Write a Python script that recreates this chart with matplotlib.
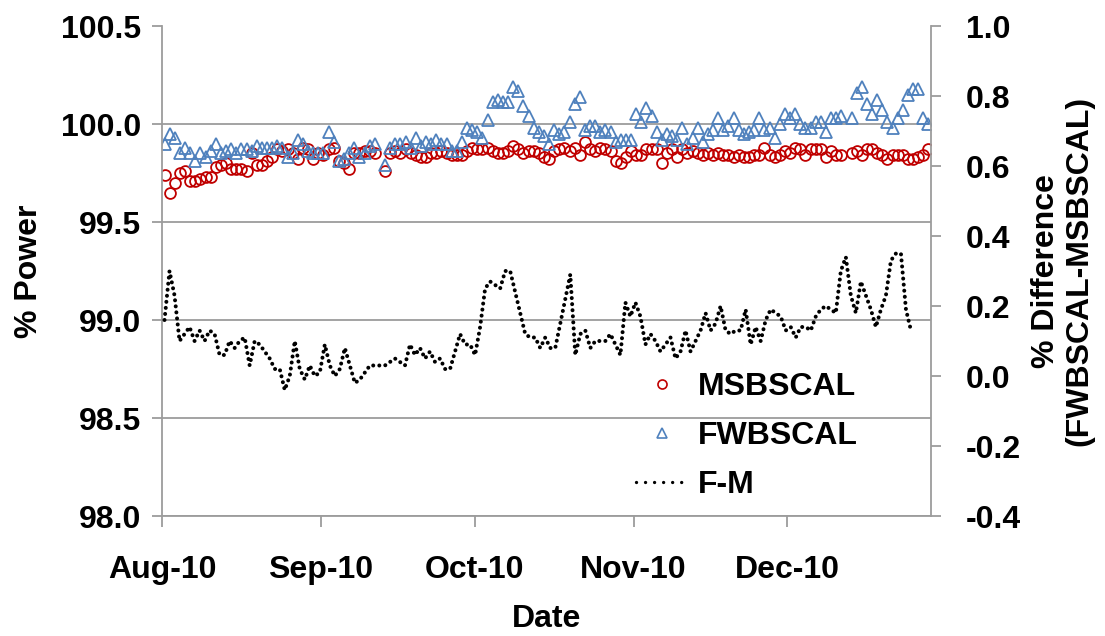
import matplotlib
matplotlib.use("Agg")
import matplotlib.pyplot as plt
import matplotlib.dates as mdates
import pandas as pd
from matplotlib.lines import Line2D

plt.rcParams['font.family'] = ['Liberation Sans', 'DejaVu Sans']
plt.rcParams['font.weight'] = 'bold'
plt.rcParams['axes.unicode_minus'] = False

# ---- data: daily readings (Sep 12 and Dec 12 missing) ----
dates = pd.date_range("2010-08-01 12:00", "2010-12-28 12:00", freq="D")
dates = dates.drop(pd.to_datetime(["2010-09-12 12:00", "2010-12-12 12:00"]))

msbscal = [99.74, 99.65, 99.70, 99.75, 99.76, 99.71, 99.71, 99.72, 99.73, 99.73,
           99.78, 99.79, 99.80, 99.77, 99.77, 99.77, 99.76, 99.85, 99.79, 99.79,
           99.81, 99.83, 99.87, 99.86, 99.87, 99.85, 99.82, 99.88, 99.87, 99.82,
           99.85, 99.84, 99.87, 99.88, 99.81, 99.80, 99.77, 99.85, 99.85, 99.86,
           99.86, 99.85, 99.76, 99.85, 99.86, 99.85, 99.87, 99.85, 99.84, 99.83,
           99.83, 99.85, 99.85, 99.86, 99.85, 99.84, 99.84, 99.84, 99.86, 99.88,
           99.87, 99.87, 99.88, 99.86, 99.85, 99.85, 99.86, 99.89, 99.87, 99.85,
           99.86, 99.86, 99.85, 99.83, 99.82, 99.86, 99.87, 99.88, 99.86, 99.88,
           99.84, 99.91, 99.87, 99.86, 99.88, 99.87, 99.86, 99.81, 99.80, 99.83,
           99.86, 99.84, 99.84, 99.87, 99.87, 99.87, 99.80, 99.85, 99.87, 99.83,
           99.87, 99.85, 99.86, 99.85, 99.84, 99.85, 99.84, 99.85, 99.84, 99.84,
           99.83, 99.84, 99.83, 99.83, 99.84, 99.84, 99.88, 99.84, 99.83, 99.84,
           99.86, 99.85, 99.88, 99.87, 99.84, 99.87, 99.87, 99.87, 99.83, 99.86,
           99.84, 99.84, 99.85, 99.86, 99.84, 99.87, 99.87, 99.85, 99.84, 99.82,
           99.84, 99.84, 99.84, 99.82, 99.82, 99.83, 99.84, 99.87]

fwbscal = [99.90, 99.95, 99.93, 99.85, 99.88, 99.85, 99.81, 99.85, 99.83, 99.86,
           99.90, 99.85, 99.86, 99.87, 99.85, 99.87, 99.87, 99.86, 99.89, 99.88,
           99.88, 99.88, 99.89, 99.88, 99.83, 99.85, 99.92, 99.90, 99.86, 99.85,
           99.85, 99.85, 99.96, 99.91, 99.81, 99.82, 99.85, 99.88, 99.83, 99.85,
           99.89, 99.90, 99.79, 99.88, 99.90, 99.90, 99.91, 99.88, 99.93, 99.89,
           99.91, 99.90, 99.92, 99.90, 99.90, 99.86, 99.86, 99.91, 99.98, 99.97,
           99.96, 99.93, 100.02, 100.11, 100.12, 100.11, 100.11, 100.19, 100.17, 100.09,
           100.04, 99.98, 99.96, 99.94, 99.90, 99.97, 99.95, 99.96, 100.01, 100.10,
           100.14, 99.97, 99.99, 99.99, 99.96, 99.97, 99.96, 99.91, 99.92, 99.92,
           99.92, 100.05, 100.01, 100.08, 100.04, 99.96, 99.92, 99.95, 99.94, 99.92,
           99.98, 99.90, 99.93, 99.98, 99.91, 99.95, 99.97, 100.03, 99.97, 99.99,
           100.03, 99.97, 99.95, 99.96, 99.97, 100.03, 99.97, 99.98, 99.93, 100.00,
           100.05, 100.03, 100.05, 100.00, 99.98, 99.98, 100.01, 100.01, 99.96, 100.03,
           100.03, 100.04, 100.03, 100.16, 100.19, 100.10, 100.05, 100.12, 100.07, 100.01,
           99.98, 100.03, 100.07, 100.15, 100.18, 100.18, 100.03, 100.00]

f_minus_m = [0.16, 0.30, 0.23, 0.10, 0.12, 0.14, 0.10, 0.13, 0.10, 0.13,
             0.12, 0.06, 0.06, 0.10, 0.08, 0.10, 0.11, 0.03, 0.10, 0.09,
             0.07, 0.05, 0.02, 0.02, -0.04, 0.00, 0.10, 0.02, -0.01, 0.03,
             0.00, 0.01, 0.09, 0.03, 0.00, 0.02, 0.08, 0.03, -0.02, -0.01,
             0.01, 0.03, 0.03, 0.03, 0.04, 0.05, 0.04, 0.03, 0.09, 0.06,
             0.08, 0.05, 0.07, 0.04, 0.05, 0.02, 0.02, 0.07, 0.12, 0.09,
             0.09, 0.06, 0.14, 0.25, 0.27, 0.26, 0.25, 0.30, 0.30, 0.24,
             0.18, 0.12, 0.11, 0.11, 0.08, 0.11, 0.08, 0.08, 0.15, 0.22,
             0.29, 0.06, 0.12, 0.13, 0.08, 0.10, 0.10, 0.10, 0.12, 0.09,
             0.06, 0.21, 0.17, 0.21, 0.17, 0.09, 0.12, 0.10, 0.07, 0.09,
             0.11, 0.05, 0.07, 0.13, 0.07, 0.10, 0.13, 0.18, 0.13, 0.15,
             0.20, 0.13, 0.12, 0.13, 0.13, 0.19, 0.09, 0.14, 0.10, 0.16,
             0.19, 0.18, 0.17, 0.13, 0.14, 0.11, 0.14, 0.14, 0.13, 0.17,
             0.19, 0.20, 0.18, 0.30, 0.34, 0.23, 0.18, 0.27, 0.23, 0.19,
             0.14, 0.19, 0.23, 0.33, 0.35, 0.35, 0.19, 0.13]

left_ticks = [98.0, 98.5, 99.0, 99.5, 100.0, 100.5]
right_ticks = [-0.4, -0.2, 0.0, 0.2, 0.4, 0.6, 0.8, 1.0]
labels = ["MSBSCAL", "FWBSCAL", "F-M"]

# ---- styling ----
RED = '#C00000'
BLUE = '#4F81BD'
GRID = '#9C9C9C'
FS = 23
DOT = dict(color='black', lw=2.9, ls=(0, (0.01, 1.5)), dash_capstyle='round')
DOT_LEGEND = dict(color='black', lw=2.4, ls=(0, (0.01, 2.7)), dash_capstyle='round')

fig = plt.figure(figsize=(11.05, 6.36), dpi=100)
pos = [162 / 1105, 1 - 516 / 636, (931 - 162) / 1105, (516 - 26) / 636]

ax = fig.add_axes(pos)
ax.plot(dates, msbscal, ls='none', marker='o', mfc='none', mec=RED, ms=7.8, mew=1.3)
ax.plot(dates, fwbscal, ls='none', marker='^', mfc='none', mec=BLUE, ms=8.2, mew=1.3)
ax.set_xlim(pd.Timestamp('2010-08-01'), pd.Timestamp('2010-12-29'))
ax.set_ylim(98.0, 100.5)
ax.set_yticks(left_ticks)
ax.yaxis.set_major_formatter('{x:.1f}')
ax.xaxis.set_major_locator(mdates.MonthLocator())
ax.xaxis.set_major_formatter(mdates.DateFormatter('%b-%y'))
ax.grid(axis='y', color=GRID, lw=1.3)
ax.get_ygridlines()[-1].set_visible(False)
ax.set_axisbelow(True)
for s in ['top', 'right']:
    ax.spines[s].set_visible(False)
for s in ['left', 'bottom']:
    ax.spines[s].set_color(GRID)
    ax.spines[s].set_linewidth(1.3)
ax.tick_params(axis='x', direction='out', length=8, width=1.3, color=GRID,
               pad=20, labelsize=FS)
ax.tick_params(axis='y', direction='out', length=7, width=1.3, color=GRID,
               pad=8, labelsize=FS)
ax.set_ylabel('% Power', fontsize=FS, fontweight='bold', labelpad=12)
ax.set_xlabel('Date', fontsize=FS, fontweight='bold', labelpad=14)

# secondary axes for the difference series (own horizontal scale, as in the source)
ax2 = fig.add_axes(pos)
ax2.patch.set_visible(False)
ax2.plot(dates, f_minus_m, **DOT)
ax2.set_xlim(pd.Timestamp('2010-08-01'), pd.Timestamp('2011-01-01 12:00'))
ax2.xaxis.set_visible(False)
ax2.set_ylim(-0.4, 1.0)
ax2.set_yticks(right_ticks)
ax2.yaxis.set_major_formatter('{x:.1f}')
ax2.yaxis.tick_right()
ax2.yaxis.set_label_position('right')
for s in ['top', 'left', 'bottom']:
    ax2.spines[s].set_visible(False)
ax2.spines['right'].set_color(GRID)
ax2.spines['right'].set_linewidth(1.3)
ax2.tick_params(axis='y', direction='out', length=7, width=1.3, color=GRID,
                pad=18, labelsize=FS)
ax2.set_ylabel('% Difference\n(FWBSCAL-MSBSCAL)', fontsize=FS, fontweight='bold',
               labelpad=7, linespacing=1.15)

handles = [
    Line2D([], [], ls='none', marker='o', mfc='none', mec=RED, ms=6.5, mew=1.2),
    Line2D([], [], ls='none', marker='^', mfc='none', mec=BLUE, ms=6.5, mew=1.2),
    Line2D([], [], **DOT_LEGEND),
]
fig.legend(handles, labels, loc='upper left', bbox_to_anchor=(636 / 1105, 1 - 372 / 636),
           frameon=False, fontsize=FS, handlelength=1.6, handletextpad=0.35,
           labelspacing=0.6, borderpad=0, borderaxespad=0)

fig.savefig('out.png', dpi=100)
